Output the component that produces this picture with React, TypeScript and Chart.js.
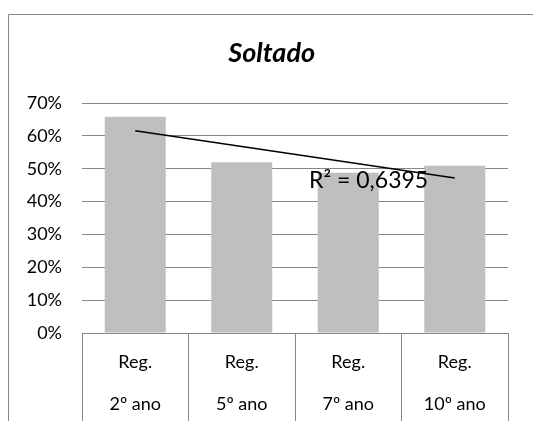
import React, { useEffect, useRef } from 'react';
import { Chart, registerables } from 'chart.js';

Chart.register(...registerables);

// ---- Data ----
const categories: string[][] = [
  ['Reg.', '2º ano'],
  ['Reg.', '5º ano'],
  ['Reg.', '7º ano'],
  ['Reg.', '10º ano'],
];
const values: number[] = [0.658, 0.52, 0.488, 0.509];
const yMin = 0;
const yMax = 0.7;
const yStep = 0.1;
const chartTitle = 'Soltado';
const r2Label = 'R² = 0,6395';

// linear least-squares trend line over the bar values (like Excel's trendline)
function linearTrend(ys: number[]): number[] {
  const n = ys.length;
  const xs = ys.map((_, i) => i + 1);
  const mx = xs.reduce((a, b) => a + b, 0) / n;
  const my = ys.reduce((a, b) => a + b, 0) / n;
  let sxy = 0;
  let sxx = 0;
  for (let i = 0; i < n; i++) {
    sxy += (xs[i] - mx) * (ys[i] - my);
    sxx += (xs[i] - mx) * (xs[i] - mx);
  }
  const slope = sxy / sxx;
  return xs.map((x) => my + slope * (x - mx));
}

const GRAY = '#878787';
const FONT = 'Lato';
const PAD_LEFT = 10.4;

const framePlugin = {
  id: 'frame',
  beforeDraw(chart: any) {
    const ctx = chart.ctx;
    ctx.save();
    ctx.strokeStyle = GRAY;
    ctx.lineWidth = 1;
    ctx.beginPath();
    ctx.moveTo(8.5, chart.height + 2);
    ctx.lineTo(8.5, 14.5);
    ctx.lineTo(chart.width + 2, 14.5);
    ctx.stroke();
    ctx.restore();
  },
};

const r2Plugin = {
  id: 'r2label',
  afterDatasetsDraw(chart: any) {
    const { ctx, chartArea, scales } = chart;
    ctx.save();
    ctx.font = `23px ${FONT}`;
    ctx.fillStyle = '#000';
    ctx.textAlign = 'left';
    ctx.textBaseline = 'alphabetic';
    const x = chartArea.left + 0.533 * (chartArea.right - chartArea.left);
    const y = scales.y.getPixelForValue(0.441);
    ctx.fillText(r2Label, x, y);
    ctx.restore();
  },
};

export default function App() {
  const canvasRef = useRef<HTMLCanvasElement | null>(null);

  useEffect(() => {
    document.body.style.margin = '0';
    let chart: Chart | null = null;
    let cancelled = false;

    const build = () => {
      if (cancelled || !canvasRef.current) return;
      chart = new Chart(canvasRef.current, {
        type: 'bar',
        data: {
          labels: categories as any,
          datasets: [
            {
              type: 'line',
              data: linearTrend(values),
              borderColor: '#000',
              borderWidth: 1.5,
              pointRadius: 0,
              fill: false,
              order: 1,
            } as any,
            {
              type: 'bar',
              data: values,
              backgroundColor: '#BFBFBF',
              borderWidth: 0,
              barPercentage: 0.573,
              categoryPercentage: 1,
              order: 2,
            } as any,
          ],
        },
        options: {
          responsive: false,
          animation: false,
          devicePixelRatio: 1,
          layout: { padding: { left: PAD_LEFT, right: 0, top: 0, bottom: 0 } },
          plugins: {
            legend: { display: false },
            tooltip: { enabled: false },
            title: {
              display: true,
              text: chartTitle,
              color: '#000',
              font: { family: FONT, size: 27, weight: 'bold', style: 'italic', lineHeight: 1.2 },
              padding: { top: 37.4, bottom: 33.2 },
            },
          },
          scales: {
            x: {
              offset: true,
              grid: {
                display: true,
                offset: true,
                drawOnChartArea: false,
                drawTicks: true,
                tickLength: 95,
                color: GRAY,
              },
              border: { display: true, color: GRAY },
              ticks: {
                padding: 8.65 - 95,
                color: '#000',
                maxRotation: 0,
                autoSkip: false,
                font: { family: FONT, size: 18, lineHeight: 2.317 },
              },
              afterFit: (s: any) => {
                s.height = 88;
              },
            },
            y: {
              min: yMin,
              max: yMax,
              ticks: {
                stepSize: yStep,
                padding: 20,
                color: '#000',
                font: { family: FONT, size: 18 },
                callback: (v: any) => Math.round(Number(v) * 100) + '%',
              },
              grid: { color: GRAY, drawTicks: false },
              border: { display: false },
              afterFit: (s: any) => {
                s.width = 82 - PAD_LEFT;
              },
            },
            spacer: {
              type: 'linear',
              position: 'right',
              display: true,
              grid: { display: false, drawTicks: false },
              ticks: { display: false },
              border: { display: false },
              afterFit: (s: any) => {
                s.width = 25;
              },
            },
          },
        },
        plugins: [framePlugin, r2Plugin],
      });
    };

    const fontsReady = (document as any).fonts
      ? Promise.all([
          (document as any).fonts.load(`bold italic 27px ${FONT}`),
          (document as any).fonts.load(`18px ${FONT}`),
        ]).catch(() => null)
      : Promise.resolve(null);
    fontsReady.then(build);

    return () => {
      cancelled = true;
      if (chart) chart.destroy();
    };
  }, []);

  return (
    <div style={{ width: 533, height: 421, overflow: 'hidden', position: 'relative' }}>
      <canvas ref={canvasRef} width={533} height={421} style={{ display: 'block', width: 533, height: 421 }} />
    </div>
  );
}
